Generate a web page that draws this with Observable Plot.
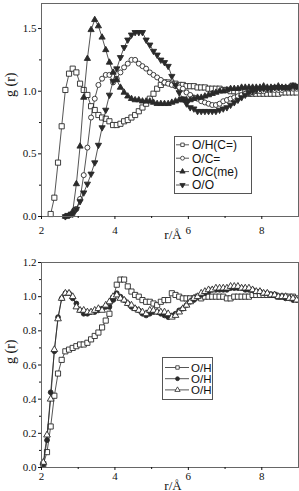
<!DOCTYPE html>
<html>
<head>
<meta charset="utf-8">
<script src="https://cdn.jsdelivr.net/npm/d3@7"></script>
<script src="https://cdn.jsdelivr.net/npm/@observablehq/plot@0.6"></script>
<style>
  body { margin: 0; background: #fff; width: 299px; }
  svg { display: block; }
</style>
</head>
<body>
<div id="chart"></div>
<script>
// Radial distribution functions g(r), sampled at bin centres (Å)
const r = [2.05,2.15,2.25,2.35,2.45,2.55,2.65,2.75,2.85,2.95,
           3.05,3.15,3.25,3.35,3.45,3.55,3.65,3.75,3.85,3.95,
           4.05,4.15,4.25,4.35,4.45,4.55,4.65,4.75,4.85,4.95,
           5.05,5.15,5.25,5.35,5.45,5.55,5.65,5.75,5.85,5.95,
           6.05,6.15,6.25,6.35,6.45,6.55,6.65,6.75,6.85,6.95,
           7.05,7.15,7.25,7.35,7.45,7.55,7.65,7.75,7.85,7.95,
           8.05,8.15,8.25,8.35,8.45,8.55,8.65,8.75,8.85,8.95];

// Upper panel
const gOHCeq = [null,null,0.02,0.15,0.43,0.72,1.01,1.14,1.18,1.15,
                1.06,1.01,0.97,0.88,0.85,0.81,0.79,0.78,0.76,0.73,
                0.73,0.74,0.76,0.77,0.79,0.81,0.84,0.87,0.90,0.94,
                0.98,1.02,1.05,1.07,1.07,1.06,1.06,1.05,1.05,1.04,
                1.04,1.04,1.03,1.03,1.03,1.02,1.02,1.02,1.02,1.01,
                1.01,1.00,1.00,0.99,0.99,0.99,0.98,0.98,0.98,0.98,
                0.98,0.98,0.98,0.98,0.98,0.99,0.99,0.99,0.99,0.99];
const gOCeq = [null,null,null,null,null,null,0.00,0.01,0.02,0.06,
               0.14,0.33,0.55,0.79,0.94,1.05,1.10,1.13,1.13,1.07,
               1.10,1.15,1.19,1.22,1.25,1.25,1.22,1.20,1.18,1.15,
               1.13,1.11,1.09,1.07,1.06,1.05,1.04,1.03,1.02,0.99,
               0.97,0.95,0.94,0.92,0.91,0.90,0.89,0.89,0.90,0.92,
               0.93,0.94,0.95,0.96,0.97,0.98,0.98,0.99,1.00,1.00,
               1.00,1.01,1.01,1.01,1.01,1.01,1.02,1.02,1.02,1.02];
const gOCme = [null,null,null,null,null,null,0.00,0.01,0.04,0.26,
               0.56,0.95,1.26,1.49,1.57,1.52,1.43,1.33,1.23,1.15,
               1.09,1.03,0.99,0.96,0.94,0.93,0.93,0.92,0.92,0.92,
               0.91,0.90,0.90,0.90,0.90,0.91,0.92,0.93,0.93,0.93,
               0.93,0.94,0.95,0.95,0.96,0.97,0.98,0.99,1.00,1.00,
               1.01,1.02,1.02,1.02,1.03,1.03,1.03,1.03,1.03,1.03,
               1.04,1.03,1.03,1.03,1.04,1.03,1.03,1.03,1.04,1.03];
const gOO = [null,null,null,null,null,null,0.00,0.01,0.02,0.06,
             0.12,0.19,0.26,0.34,0.43,0.57,0.71,0.85,0.97,1.08,
             1.18,1.27,1.35,1.41,1.45,1.47,1.47,1.47,1.41,1.37,
             1.32,1.29,1.25,1.23,1.20,1.12,1.05,0.99,0.94,0.90,
             0.87,0.86,0.84,0.84,0.84,0.84,0.84,0.84,0.85,0.86,
             0.87,0.89,0.91,0.93,0.95,0.97,0.99,1.00,1.01,1.02,
             1.02,1.02,1.02,1.03,1.03,1.03,1.03,1.03,1.05,1.04];

// Lower panel
const gOH1 = [0.02,0.09,0.24,0.42,0.55,0.63,0.68,0.69,0.70,0.71,
              0.72,0.72,0.73,0.75,0.77,0.79,0.82,0.86,0.90,0.99,
              1.07,1.10,1.10,1.06,1.03,1.01,1.00,0.98,0.97,0.97,
              0.96,0.95,0.97,0.98,0.98,1.02,1.01,1.00,0.99,0.99,
              0.99,0.99,1.00,0.99,1.00,1.00,1.00,1.00,1.00,1.00,
              0.99,0.99,1.00,1.00,1.00,1.00,1.00,1.01,1.01,1.01,
              1.01,1.01,1.01,1.01,1.00,1.00,1.00,1.00,1.00,0.99];
const gOH2 = [0.02,0.16,0.44,0.68,0.88,0.99,1.02,1.02,0.99,0.96,
              0.92,0.90,0.90,0.91,0.91,0.92,0.93,0.94,0.94,0.98,
              1.02,1.00,0.98,0.96,0.94,0.93,0.92,0.90,0.89,0.90,
              0.91,0.91,0.90,0.89,0.88,0.89,0.90,0.92,0.93,0.95,
              0.97,0.98,1.00,1.01,1.02,1.03,1.04,1.04,1.04,1.04,
              1.04,1.05,1.05,1.05,1.05,1.04,1.04,1.04,1.03,1.03,
              1.02,1.02,1.01,1.01,1.00,1.00,0.99,0.99,0.98,0.98];
const gOH3 = [0.03,0.19,0.40,0.69,0.87,0.99,1.02,1.02,1.00,0.94,
              0.92,0.92,0.91,0.91,0.92,0.93,0.92,0.95,0.97,1.00,
              1.01,0.99,0.98,0.96,0.95,0.93,0.92,0.91,0.90,0.92,
              0.92,0.91,0.91,0.91,0.90,0.88,0.89,0.91,0.93,0.95,
              0.97,0.99,1.00,1.02,1.03,1.04,1.04,1.05,1.05,1.05,
              1.05,1.06,1.06,1.06,1.05,1.05,1.05,1.04,1.03,1.03,
              1.02,1.02,1.01,1.01,1.00,1.00,1.00,0.99,0.99,0.98];

const xTicks = [2, 4, 6, 8];
const xMinor = [3, 5, 7];
const yTicksTop = [0, 0.5, 1.0, 1.5];
const yMinorTop = [0.25, 0.75, 1.25];
const yTicksBottom = [0, 0.2, 0.4, 0.6, 0.8, 1.0, 1.2];
const yMinorBottom = [0.1, 0.3, 0.5, 0.7, 0.9, 1.1];

// Downward-pointing triangle, same area convention as d3.symbolTriangle
const triangleDown = {
  draw(context, size) {
    const y = -Math.sqrt(size / (Math.sqrt(3) * 3));
    context.moveTo(0, -2 * y);
    context.lineTo(-Math.sqrt(3) * y, y);
    context.lineTo(Math.sqrt(3) * y, y);
    context.closePath();
  }
};

const INK = "#2a2a2a";

const topSeries = [
  {label: "O/H(C=)", values: gOHCeq, symbol: "square",   fill: "white", r: 2.9},
  {label: "O/C=",    values: gOCeq,  symbol: "circle",   fill: "white", r: 2.5},
  {label: "O/C(me)", values: gOCme,  symbol: "triangle", fill: INK,     r: 2.3},
  {label: "O/O",     values: gOO,    symbol: triangleDown, fill: INK,   r: 2.3}
];
const bottomSeries = [
  {label: "O/H", values: gOH1, symbol: "square",   fill: "white", r: 2.9},
  {label: "O/H", values: gOH2, symbol: "circle",   fill: INK,     r: 2.4},
  {label: "O/H", values: gOH3, symbol: "triangle", fill: "white", r: 2.5}
];

const rows = values => r.map((x, i) => ({r: x, g: values[i]})).filter(d => d.g != null);

function seriesMarks(series) {
  return series.flatMap(s => {
    const data = rows(s.values);
    return [
      Plot.line(data, {x: "r", y: "g", stroke: INK, strokeWidth: 0.8}),
      Plot.dot(data, {x: "r", y: "g", symbol: s.symbol, r: s.r, fill: s.fill, stroke: INK, strokeWidth: 0.9})
    ];
  });
}

function panel({height, marginTop, marginBottom, yDomain, yTicks, yMinor, series, tickPadX, yLabelDy}) {
  return Plot.plot({
    width: 299,
    height,
    marginTop,
    marginBottom,
    marginLeft: 41,
    marginRight: 1,
    style: {fontFamily: "'Liberation Serif', 'Times New Roman', serif", fontSize: "11px", color: "#111", background: "white"},
    x: {domain: [2, 9]},
    y: {domain: yDomain},
    marks: [
      ...seriesMarks(series),
      Plot.frame({stroke: "#666", strokeWidth: 1}),
      Plot.axisX(xTicks, {tickSize: 3, tickPadding: tickPadX, tickFormat: d => String(d), label: null}),
      Plot.axisX(xMinor, {tickSize: 2, tickFormat: () => "", label: null}),
      Plot.axisY(yTicks, {tickSize: 3, tickPadding: 2, tickFormat: d3.format(".1f"), label: null}),
      Plot.axisY(yMinor, {tickSize: 2, tickFormat: () => "", label: null}),
      Plot.text(["g (r)"], {text: d => d, frameAnchor: "left", rotate: -90, dx: -31, dy: yLabelDy, fontSize: 14}),
      Plot.text(["r/Å"], {text: d => d, frameAnchor: "bottom", lineAnchor: "bottom", dx: 3, dy: 22, fontSize: 13})
    ]
  });
}

// Boxed key in the panel's own pixel space
function addLegend(svg, series, o) {
  const g = d3.select(svg).append("g").attr("text-anchor", "start");
  g.append("rect")
    .attr("x", o.x + 0.5).attr("y", o.y + 0.5).attr("width", o.w).attr("height", o.h)
    .attr("fill", "white").attr("stroke", "#555").attr("stroke-width", 1);
  series.forEach((s, i) => {
    const cy = o.y0 + i * o.dy;
    g.append("line")
      .attr("x1", o.lx1).attr("x2", o.lx2).attr("y1", cy).attr("y2", cy)
      .attr("stroke", INK).attr("stroke-width", 0.8);
    const type = typeof s.symbol === "string"
      ? {square: d3.symbolSquare, circle: d3.symbolCircle, triangle: d3.symbolTriangle}[s.symbol]
      : s.symbol;
    g.append("path")
      .attr("d", d3.symbol(type, o.markerSize)())
      .attr("transform", `translate(${o.mx},${cy})`)
      .attr("fill", s.fill).attr("stroke", INK).attr("stroke-width", 0.8);
    g.append("text")
      .attr("x", o.tx).attr("y", cy).attr("dy", "0.36em")
      .attr("text-anchor", "start")
      .attr("font-family", "'Liberation Sans', Arial, sans-serif")
      .attr("font-size", o.fontSize).attr("fill", "#111")
      .text(s.label);
  });
}

const upperPanel = panel({
  height: 245, marginTop: 3, marginBottom: 29,
  yDomain: [0, 1.7], yTicks: yTicksTop, yMinor: yMinorTop,
  series: topSeries, tickPadX: 7, yLabelDy: -13
});
addLegend(upperPanel, topSeries, {x: 174, y: 136, w: 77, h: 57, y0: 144.8, dy: 13.4,
  lx1: 176, lx2: 189, mx: 182.5, tx: 192, fontSize: 12, markerSize: 12});

const lowerPanel = panel({
  height: 246, marginTop: 17, marginBottom: 24,
  yDomain: [0, 1.2], yTicks: yTicksBottom, yMinor: yMinorBottom,
  series: bottomSeries, tickPadX: 2, yLabelDy: -1
});
addLegend(lowerPanel, bottomSeries, {x: 162, y: 112, w: 50, h: 42, y0: 122.5, dy: 11.2,
  lx1: 165, lx2: 189, mx: 177.5, tx: 191, fontSize: 11.5, markerSize: 12});

document.getElementById("chart").append(upperPanel, lowerPanel);
</script>
</body>
</html>
